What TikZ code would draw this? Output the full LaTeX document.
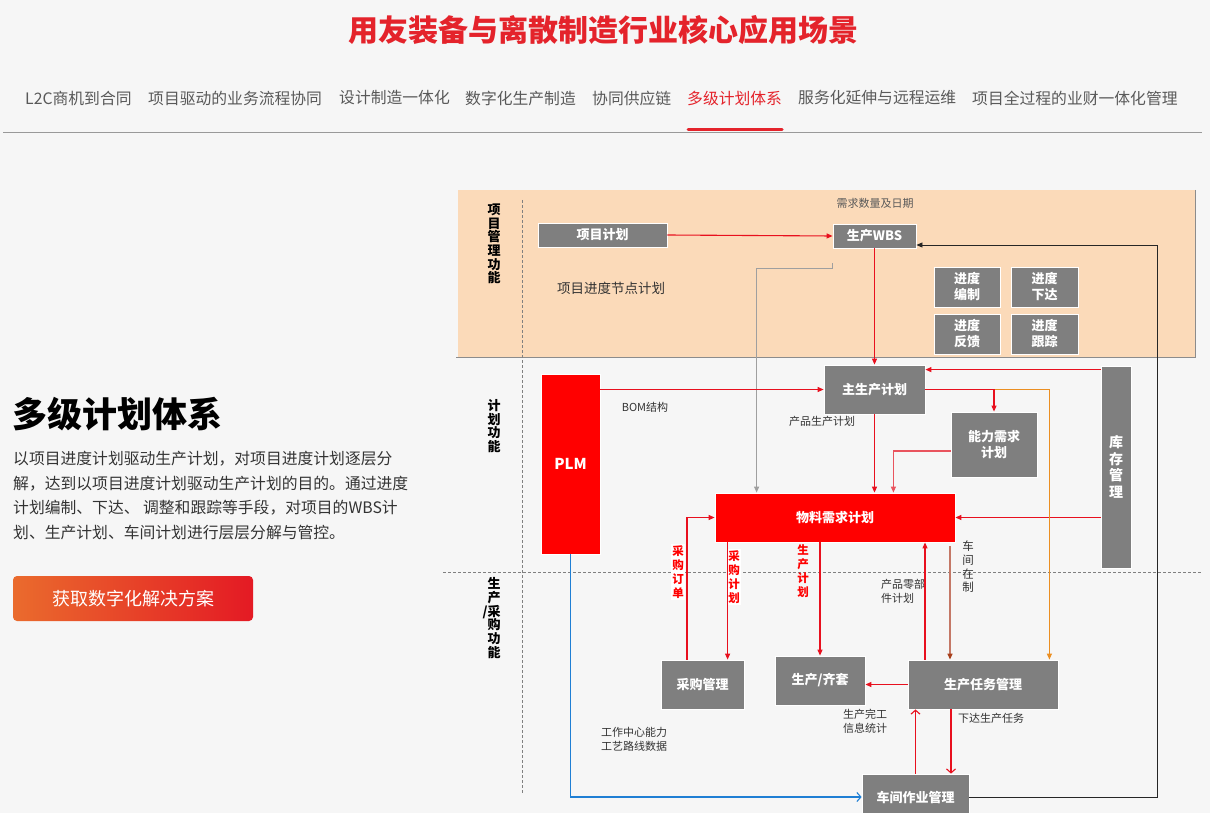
\documentclass[tikz,border=0pt]{standalone}
\usepackage{fontspec}
\setmainfont{Noto Sans CJK SC}
\usetikzlibrary{arrows.meta,calc,positioning}
\definecolor{PlanRed}{HTML}{FF0000}
\definecolor{TitleRed}{HTML}{E4232B}
\definecolor{LineRed}{HTML}{E8101E}
\definecolor{LinePink}{HTML}{E9545E}
\definecolor{PlanGray}{HTML}{7F7F7F}
\definecolor{PlanPeach}{HTML}{FBDAB9}
\definecolor{PlanOrange}{HTML}{EB8F22}
\definecolor{PlanBrown}{HTML}{C47866}
\definecolor{BrownTip}{HTML}{A8401C}
\definecolor{PlanBlue}{HTML}{1F7FD4}
\definecolor{TabInk}{HTML}{595959}
\definecolor{NoteInk}{HTML}{333333}
\definecolor{PageBg}{HTML}{F6F6F6}
\definecolor{BtnOrange}{HTML}{EA6B2D}
\definecolor{BtnRed}{HTML}{E41A24}
\tikzset{
  every node/.style={text=NoteInk},
  tab/.style={anchor=west, inner sep=0pt, text=TabInk, font=\fontsize{15.8}{18}\selectfont},
  box/.style={draw=white, line width=0.8pt, fill=PlanGray, text=white, inner sep=0pt, align=center,
    font=\fontsize{13}{16}\selectfont\bfseries},
  redbox/.style={box, fill=PlanRed},
  lane/.style={inner sep=0pt, align=center, text=black, font=\fontsize{13}{13.7}\selectfont\bfseries},
  note/.style={inner sep=0pt, align=left, font=\fontsize{11}{14}\selectfont},
  vlabel/.style={inner sep=1.5pt, align=center, fill=white, text=PlanRed, font=\fontsize{11.5}{14}\selectfont\bfseries},
  guide/.style={draw=gray, line width=0.7pt, dash pattern=on 3pt off 2pt},
  flow/.style={-{Triangle[length=6pt,width=5pt]}, draw=LineRed, line width=1.1pt},
  openflow/.style={-{Straight Barb[length=4pt,width=9pt]}, draw=LineRed, line width=1.1pt},
}

\begin{document}
\begin{tikzpicture}[x=1pt,y=-1pt]
  \fill[PageBg] (0,0) rectangle (1210,813);
  \useasboundingbox (0,0) rectangle (1210,813);
  % header and tabs
  \node[text=TitleRed, font=\fontsize{30}{32}\selectfont\bfseries] (title) at (603,30) {用友装备与离散制造行业核心应用场景};
  \node[tab] (tab1) at (25,98) {L2C商机到合同};
  \node[tab] (tab2) at (148,98) {项目驱动的业务流程协同};
  \node[tab] (tab3) at (339,98) {设计制造一体化};
  \node[tab] (tab4) at (465,98) {数字化生产制造};
  \node[tab] (tab5) at (592,98) {协同供应链};
  \node[tab, text=TitleRed] (tab6) at (687,98) {多级计划体系};
  \node[tab] (tab7) at (798,98) {服务化延伸与远程运维};
  \node[tab] (tab8) at (972,98) {项目全过程的业财一体化管理};
  \draw[gray!80, line width=0.8pt] (3,132) -- (1202,132);
  \draw[TitleRed, line width=3pt, line cap=round] (688,129.5) -- (782,129.5);
  % left column
  \node[anchor=west, inner sep=0pt, text=black, font=\fontsize{35}{40}\selectfont\bfseries] (head) at (12,414) {多级计划体系};
  \node[anchor=north west, inner sep=0pt, align=left, font=\fontsize{15.8}{24.5}\selectfont] (intro) at (13,451)
    {以项目进度计划驱动生产计划，对项目进度计划逐层分\\
     解，达到以项目进度计划驱动生产计划的目的。通过进度\\
     计划编制、下达、 调整和跟踪等手段，对项目的WBS计\\
     划、生产计划、车间计划进行层层分解与管控。};
  \node[rounded corners=4pt, left color=BtnOrange, right color=BtnRed, text=white,
    minimum width=240pt, minimum height=45pt, inner sep=0pt, font=\fontsize{18}{20}\selectfont] (cta) at (133,598.5) {获取数字化解决方案};
  % lanes
  \fill[PlanPeach] (458,190) rectangle (1195,357);
  \draw[gray!90, line width=0.8pt] (1195,190) -- (1195,357) -- (456,357);
  \draw[guide] (522,200) -- (522,794);
  \draw[guide] (443,572) -- (1202,572);
  \node[lane] (laneA) at (494,244) {项\\目\\管\\理\\功\\能};
  \node[lane] (laneB) at (494,426) {计\\划\\功\\能};
  \node[lane] (laneC) at (494,618) {生\\产\\\llap{/}采\\购\\功\\能};
  % boxes
  \node[box, minimum width=129pt, minimum height=24pt] (xmjh) at (602.5,235) {项目计划};
  \node[box, minimum width=83pt, minimum height=24pt] (wbs) at (874.5,236) {生产WBS};
  \node[box, minimum width=66pt, minimum height=40pt] (jdbz) at (967,287) {进度\\编制};
  \node[box, minimum width=67pt, minimum height=40pt] (jdxd) at (1044.5,287) {进度\\下达};
  \node[box, minimum width=66pt, minimum height=40pt] (jdfk) at (967,334) {进度\\反馈};
  \node[box, minimum width=67pt, minimum height=40pt] (jdgz) at (1044.5,334) {进度\\跟踪};
  \node[redbox, minimum width=59pt, minimum height=180pt, font=\fontsize{15}{18}\selectfont\bfseries] (plm) at (570.5,464) {PLM};
  \node[box, minimum width=101pt, minimum height=49pt] (mps) at (874.5,389.5) {主生产计划};
  \node[box, minimum width=86pt, minimum height=65pt] (crp) at (994,444.5) {能力需求\\计划};
  \node[box, minimum width=30pt, minimum height=202pt, font=\fontsize{14}{16.5}\selectfont\bfseries] (kc) at (1116,467) {库\\存\\管\\理};
  \node[redbox, minimum width=240pt, minimum height=49pt] (mrp) at (835,517.5) {物料需求计划};
  \node[box, minimum width=83pt, minimum height=49pt] (cg) at (702.5,684.5) {采购管理};
  \node[box, minimum width=90pt, minimum height=49pt] (qt) at (820,680.5) {生产/齐套};
  \node[box, minimum width=150pt, minimum height=49pt] (rw) at (983,684.5) {生产任务管理};
  \node[box, minimum width=107pt, minimum height=46pt] (cj) at (915.5,797) {车间作业管理};
  % labels
  \node[note, text=TabInk] (xqsl) at (875,203) {需求数量及日期};
  \node[note, font=\fontsize{13.5}{15}\selectfont] (jdjd) at (611,288) {项目进度节点计划};
  \node[note] (bom) at (645,407) {BOM结构};
  \node[note] (cpsc) at (822,421) {产品生产计划};
  \node[vlabel] (cgdd) at (678,572) {采\\购\\订\\单};
  \node[vlabel] (cgjh) at (734,577) {采\\购\\计\\划};
  \node[vlabel, fill=none] (scjh) at (803,571) {生\\产\\计\\划};
  \node[note, align=center, font=\fontsize{11.5}{13.7}\selectfont] (cjzz) at (968,567) {车\\间\\在\\制};
  \node[note, anchor=west] (lbj) at (881,591) {产品零部\\件计划};
  \node[note, align=center] (wgtj) at (865,721) {生产完工\\信息统计};
  \node[note] (xdrw) at (991,718) {下达生产任务};
  \node[note, anchor=west] (gzzx) at (601,739) {工作中心能力\\工艺路线数据};
  % connectors
  \coordinate (fbk) at (1157,245);
  \draw[flow] (xmjh.east) -- (wbs.west);
  \draw[flow] (wbs.south) -- (mps.north);
  \draw[-{Triangle[length=6pt,width=5pt]}, draw=gray!75, line width=1.1pt]
    ([yshift=-15pt]wbs.south west) -- ++(0,5) -| ([xshift=42pt]mrp.north west);
  \draw[-{Triangle[length=6pt,width=5pt]}, draw=black!85, line width=0.8pt] (cj.east) -| (fbk) -- (fbk -| wbs.east);
  \draw[flow] (plm.north east |- mps.west) -- (mps.west);
  \draw[flow] ([yshift=-4pt]kc.north west) -- ([yshift=-4pt]kc.north west -| mps.east);
  \draw[flow] (kc.west |- mrp.east) -- (mrp.east);
  \draw[-{Triangle[length=6pt,width=5pt]}, draw=PlanOrange, line width=1.1pt] (mps.east) -| ([xshift=-9pt]rw.north east);
  \draw[flow] (mps.east) -| (crp.north);
  \draw[flow] (mps.south) -- (mps.south |- mrp.north);
  \draw[flow, draw=LinePink] ([yshift=-6.5pt]crp.west) -| ([xshift=-62pt]mrp.north east);
  \draw[flow] ([xshift=13pt]mrp.south west) -- ([xshift=13pt]mrp.south west |- cg.north);
  \draw[flow] ([xshift=-15.5pt]cg.north) |- (mrp.west);
  \draw[flow] (qt.north |- mrp.south) -- (qt.north);
  \draw[flow] ([xshift=-58pt]rw.north) -- ([xshift=-58pt]rw.north |- mrp.south);
  \draw[-{Triangle[length=6pt,width=5pt,color=BrownTip]}, draw=PlanBrown, line width=1.3pt]
    ([xshift=-33pt,yshift=-4pt]rw.north |- mrp.south) -- ([xshift=-33pt]rw.north);
  \draw[flow] (rw.west) -- (qt.east |- rw.west);
  \draw[openflow] (cj.north) -- (cj.north |- rw.south);
  \draw[openflow] ([xshift=-32pt]rw.south) -- ([xshift=-32pt]rw.south |- cj.north);
  \draw[openflow, draw=PlanBlue] (plm.south) |- (cj.west);
\end{tikzpicture}
\end{document}
